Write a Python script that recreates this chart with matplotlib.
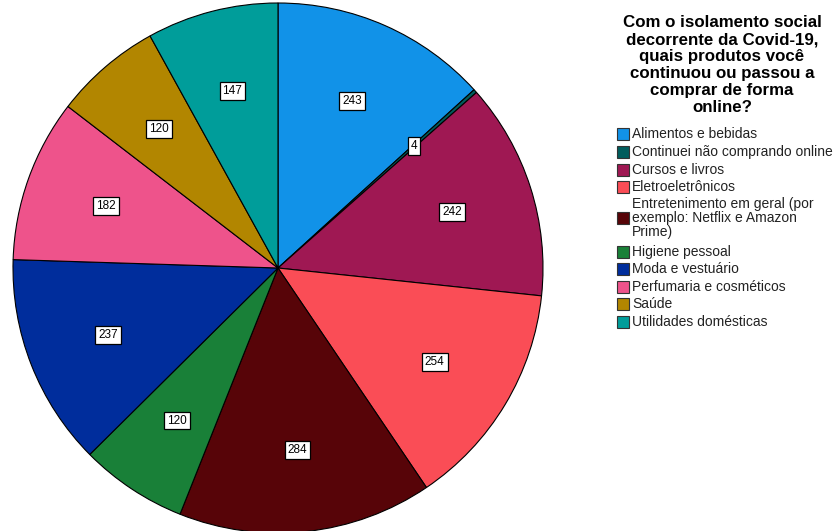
import matplotlib
matplotlib.use("Agg")
import matplotlib.pyplot as plt
from matplotlib.patches import Rectangle
import numpy as np

categories = [
    "Alimentos e bebidas",
    "Continuei não comprando online",
    "Cursos e livros",
    "Eletroeletrônicos",
    "Entretenimento em geral (por\nexemplo: Netflix e Amazon\nPrime)",
    "Higiene pessoal",
    "Moda e vestuário",
    "Perfumaria e cosméticos",
    "Saúde",
    "Utilidades domésticas",
]
counts = [243, 4, 242, 254, 284, 120, 237, 182, 120, 147]
colors = ["#1192E8", "#005D5D", "#9F1853", "#FA4D56", "#570408",
          "#198038", "#002D9C", "#EE538B", "#B28600", "#009D9A"]
title = ("Com o isolamento social\ndecorrente da Covid-19,\nquais produtos você\n"
         "continuou ou passou a\ncomprar de forma\nonline?")

plt.rcParams["font.family"] = ["Liberation Sans", "DejaVu Sans"]

W, H = 834, 531
fig = plt.figure(figsize=(W / 100, H / 100), dpi=100)
fig.patch.set_facecolor("white")

cx, cy, r = 278, 268, 265
ax = fig.add_axes([(cx - r) / W, (H - cy - r) / H, 2 * r / W, 2 * r / H])

wedges, _ = ax.pie(counts, colors=colors, startangle=90, counterclock=False,
                   radius=1, wedgeprops=dict(edgecolor="black", linewidth=0.8))
ax.set_xlim(-1, 1)
ax.set_ylim(-1, 1)
ax.set_aspect("equal")
ax.axis("off")

total = sum(counts)
angle = 90.0
for v in counts:
    span = v / total * 360
    mid = np.deg2rad(angle - span / 2)
    angle -= span
    d = 0.69
    ax.text(d * np.cos(mid), d * np.sin(mid), str(v), ha="center", va="center",
            fontsize=8.5, color="black",
            bbox=dict(boxstyle="square,pad=0.25", fc="white", ec="black", lw=0.9))

fig.text(722 / W, 1 - 15 / H, title, ha="center", va="top", fontsize=12.2,
         fontweight="bold", linespacing=1.17, color="black")

# legend drawn with figure-pixel positions
leg_y = [134, 152, 170, 187, 218, 252, 269, 287, 304, 322]
for lab, col, y in zip(categories, colors, leg_y):
    fig.patches.append(Rectangle((617 / W, 1 - (y + 6) / H), 12 / W, 12 / H,
                                 transform=fig.transFigure, fc=col, ec="#333333",
                                 lw=0.8))
    fig.text(632 / W, 1 - y / H, lab, ha="left", va="center", fontsize=10,
             color="#222222", linespacing=1.0)

fig.savefig("out.png", dpi=100, facecolor="white")
